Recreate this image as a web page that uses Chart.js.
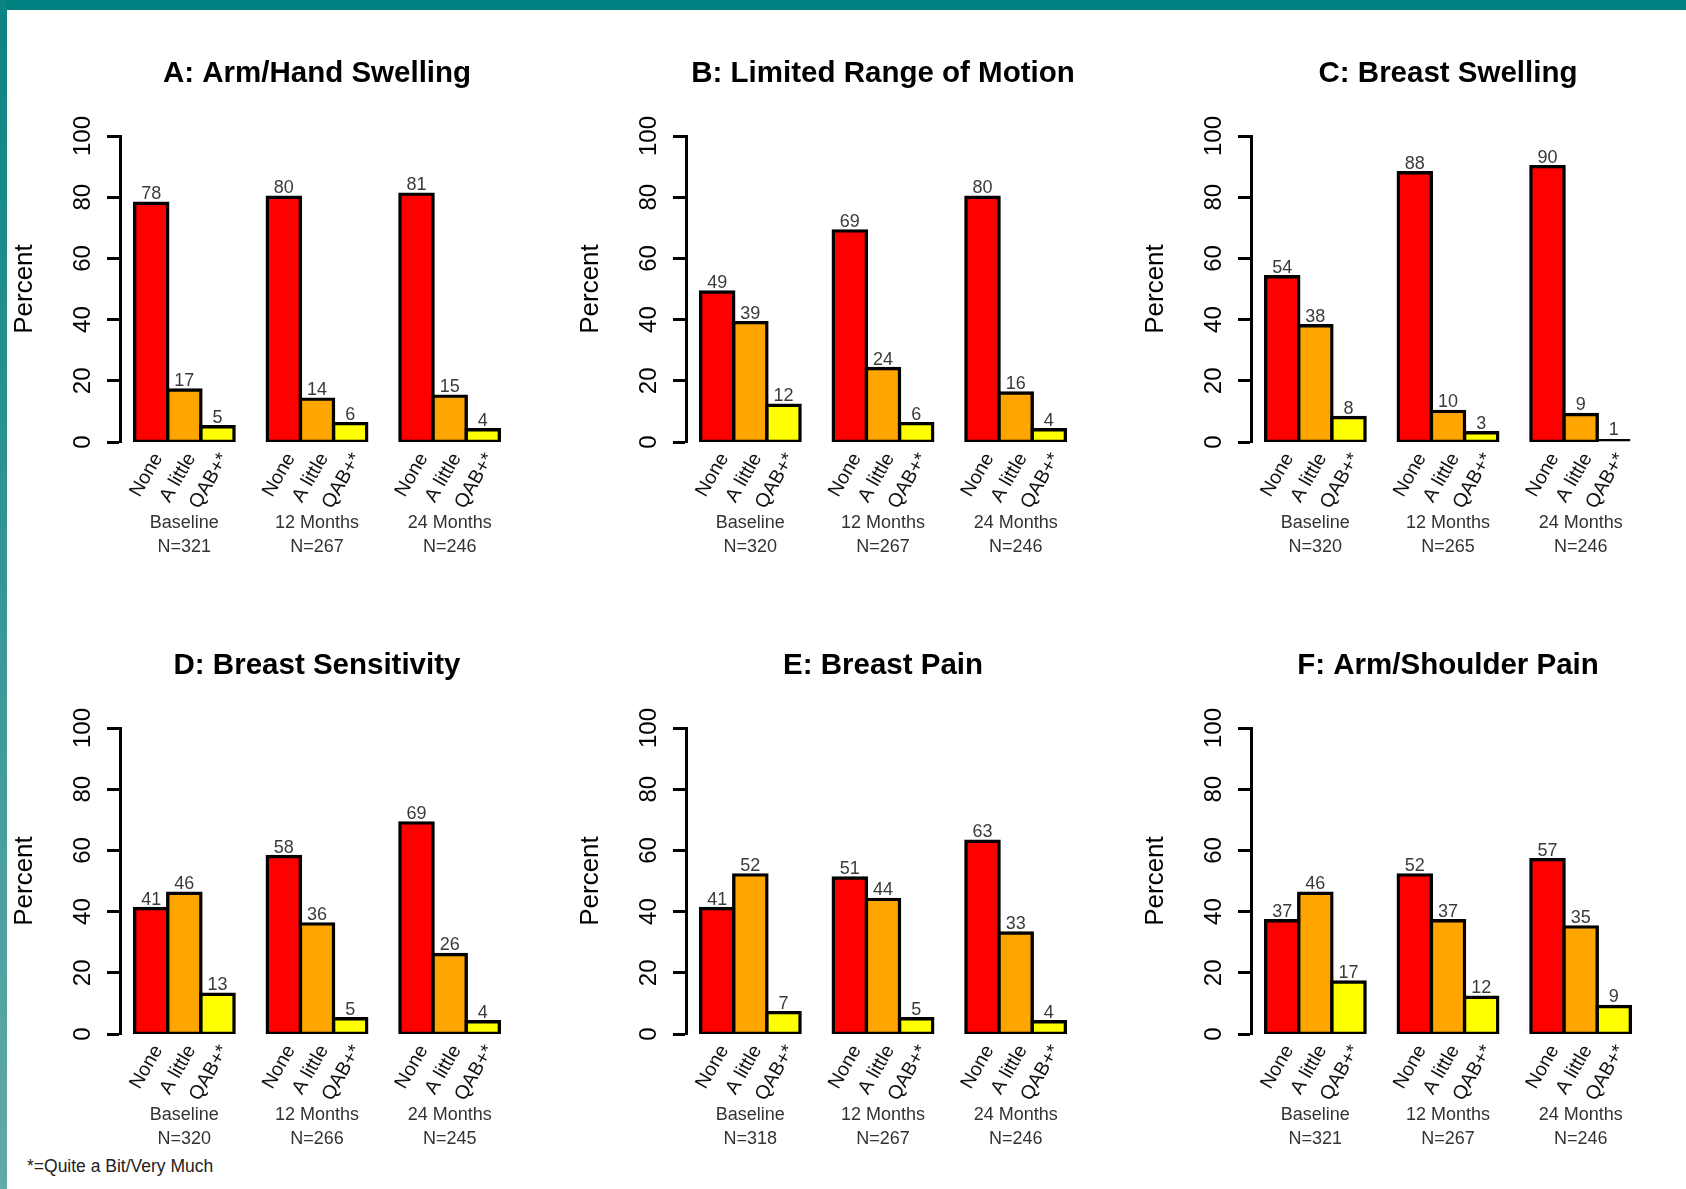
<!DOCTYPE html>
<html>
<head>
<meta charset="utf-8">
<title>Symptoms over time</title>
<script src="https://cdn.jsdelivr.net/npm/chart.js@4.4.1/dist/chart.umd.min.js"></script>
<style>
  html, body { margin: 0; padding: 0; background: #fff; }
  #page { position: relative; width: 1686px; height: 1189px; overflow: hidden; background: #fff; }
  .band-top { position: absolute; left: 0; top: 0; width: 1686px; height: 10px; background: #008080; }
  .band-left { position: absolute; left: 0; top: 0; width: 7px; height: 1189px; background: linear-gradient(#0a8383, #62a9a9); }
  #page canvas { position: absolute; }
  .note { position: absolute; left: 27px; top: 1156px; line-height: 20px; font-size: 17.5px; font-family: 'Liberation Sans', Arial, sans-serif; color: #222; }
</style>
</head>
<body>
<div id="page">
  <div class="band-top"></div>
  <div class="band-left"></div>
  <div class="note">*=Quite a Bit/Very Much</div>
</div>
<script>
const categories = ['None', 'A little', 'QAB+*']
const timepoints = ['Baseline', '12 Months', '24 Months']
const yTicks = [0, 20, 40, 60, 80, 100]
const barColors = ['#ff0000', '#ffa500', '#ffff00']

const panelTitles = [
  'A: Arm/Hand Swelling',
  'B: Limited Range of Motion',
  'C: Breast Swelling',
  'D: Breast Sensitivity',
  'E: Breast Pain',
  'F: Arm/Shoulder Pain'
]

// percent at each timepoint: [None, A little, QAB+*]
const armHandSwelling = [[78, 17, 5], [80, 14, 6], [81, 15, 4]]
const limitedMotion = [[49, 39, 12], [69, 24, 6], [80, 16, 4]]
const breastSwelling = [[54, 38, 8], [88, 10, 3], [90, 9, 1]]
const breastSensitivity = [[41, 46, 13], [58, 36, 5], [69, 26, 4]]
const breastPain = [[41, 52, 7], [51, 44, 5], [63, 33, 4]]
const armShoulderPain = [[37, 46, 17], [52, 37, 12], [57, 35, 9]]

// sample sizes per timepoint
const armHandN = [321, 267, 246]
const limitedMotionN = [320, 267, 246]
const breastSwellingN = [320, 265, 246]
const breastSensitivityN = [320, 266, 245]
const breastPainN = [318, 267, 246]
const armShoulderN = [321, 267, 246]

const panelValues = [armHandSwelling, limitedMotion, breastSwelling, breastSensitivity, breastPain, armShoulderPain]
const panelN = [armHandN, limitedMotionN, breastSwellingN, breastSensitivityN, breastPainN, armShoulderN]

// layout (px)
const FONT = "'Liberation Sans', Arial, sans-serif"
const PLOT_X0 = 120.4
const PANEL_DX = 565.5
const PLOT_Y0 = 136
const PANEL_DY = 592
const PLOT_W = 394
const PLOT_H = 306
const Y_AXIS_W = 115
const RIGHT_PAD = 12
const TOP_BAND = 96
const X_AXIS_H = 70
const GROUP_AXIS_H = 64

Chart.defaults.font.family = FONT

// barplot layout: one empty bar slot between groups, 4% extra on each side
const slot = categories.length + 1
const barPositions = timepoints.flatMap((t, g) => categories.map((c, i) => g * slot + 1.5 + i))
const groupCenters = timepoints.map((t, g) => g * slot + 1 + categories.length / 2)
const span = timepoints.length * slot - 1
const xMin = 1 - span * 0.04
const xMax = 1 + span * 1.04

const fixSize = (scale, key, size) => {
  scale[key] = size
  scale.paddingLeft = 0
  scale.paddingRight = 0
  scale.paddingTop = 0
  scale.paddingBottom = 0
}

const valueLabels = {
  id: 'valueLabels',
  afterDatasetsDraw(chart) {
    const { ctx } = chart
    const data = chart.data.datasets[0].data
    ctx.save()
    ctx.font = '18px ' + FONT
    ctx.fillStyle = '#3a3a3a'
    ctx.textAlign = 'center'
    ctx.textBaseline = 'alphabetic'
    chart.getDatasetMeta(0).data.forEach((bar, k) => {
      ctx.fillText(String(data[k].y), bar.x, bar.y - 4)
    })
    ctx.restore()
  }
}

const page = document.getElementById('page')

panelTitles.forEach((title, p) => {
  const col = p % 3
  const row = Math.floor(p / 3)
  const canvas = document.createElement('canvas')
  canvas.width = Y_AXIS_W + PLOT_W + RIGHT_PAD
  canvas.height = TOP_BAND + PLOT_H + X_AXIS_H + GROUP_AXIS_H
  canvas.style.left = (PLOT_X0 + col * PANEL_DX - Y_AXIS_W) + 'px'
  canvas.style.top = (PLOT_Y0 + row * PANEL_DY - TOP_BAND) + 'px'
  page.appendChild(canvas)

  const values = panelValues[p].flat()
  const n = panelN[p]

  new Chart(canvas, {
    type: 'bar',
    data: {
      datasets: [{
        data: values.map((v, k) => ({ x: barPositions[k], y: v })),
        backgroundColor: values.map((v, k) => barColors[k % categories.length]),
        borderColor: '#000',
        borderWidth: 3.4,
        borderSkipped: false,
        // very short bars end up all border, as in the original
        inflateAmount: c => (c.raw && c.raw.y < 2 ? 0 : 1.7),
        barPercentage: 1,
        categoryPercentage: 1
      }]
    },
    options: {
      responsive: false,
      animation: false,
      layout: { padding: { left: 0, top: 0, right: RIGHT_PAD, bottom: 0 } },
      scales: {
        x: {
          type: 'linear',
          min: xMin,
          max: xMax,
          offset: false,
          position: 'bottom',
          weight: 0,
          grid: { display: false, offset: false },
          border: { display: false },
          afterBuildTicks: s => { s.ticks = barPositions.map(v => ({ value: v })) },
          afterFit: s => fixSize(s, 'height', X_AXIS_H),
          ticks: {
            autoSkip: false,
            minRotation: 60,
            maxRotation: 60,
            padding: 0,
            labelOffset: 7,
            color: '#111',
            font: { size: 19.5, lineHeight: 1 },
            callback: (v, i) => categories[i % categories.length]
          }
        },
        groups: {
          type: 'linear',
          axis: 'x',
          min: xMin,
          max: xMax,
          offset: false,
          position: 'bottom',
          weight: 1,
          grid: { display: false, offset: false },
          border: { display: false },
          afterBuildTicks: s => { s.ticks = groupCenters.map(v => ({ value: v })) },
          afterFit: s => fixSize(s, 'height', GROUP_AXIS_H),
          ticks: {
            autoSkip: false,
            maxRotation: 0,
            padding: -8,
            color: '#333',
            font: { size: 18, lineHeight: 1.28 },
            callback: (v, i) => [timepoints[i], 'N=' + n[i]]
          }
        },
        y: {
          min: 0,
          max: 100,
          position: 'left',
          afterBuildTicks: s => { s.ticks = yTicks.map(v => ({ value: v })) },
          afterFit: s => fixSize(s, 'width', Y_AXIS_W),
          grid: { drawOnChartArea: false, drawTicks: true, tickLength: 13, tickWidth: 3, tickColor: '#000' },
          border: { display: true, color: '#000', width: 3 },
          ticks: {
            minRotation: 90,
            maxRotation: 90,
            crossAlign: 'center',
            padding: 4,
            color: '#000',
            font: { size: 24 }
          },
          title: {
            display: true,
            text: 'Percent',
            color: '#000',
            font: { size: 26 },
            padding: { top: 4.4, bottom: 0 }
          }
        }
      },
      plugins: {
        legend: { display: false },
        tooltip: { enabled: false },
        title: {
          display: true,
          text: title,
          fullSize: false,
          color: '#000',
          font: { size: 29.5, weight: 'bold' },
          padding: { top: 16.1, bottom: 44.5 }
        }
      }
    },
    plugins: [valueLabels]
  })
})
</script>
</body>
</html>
